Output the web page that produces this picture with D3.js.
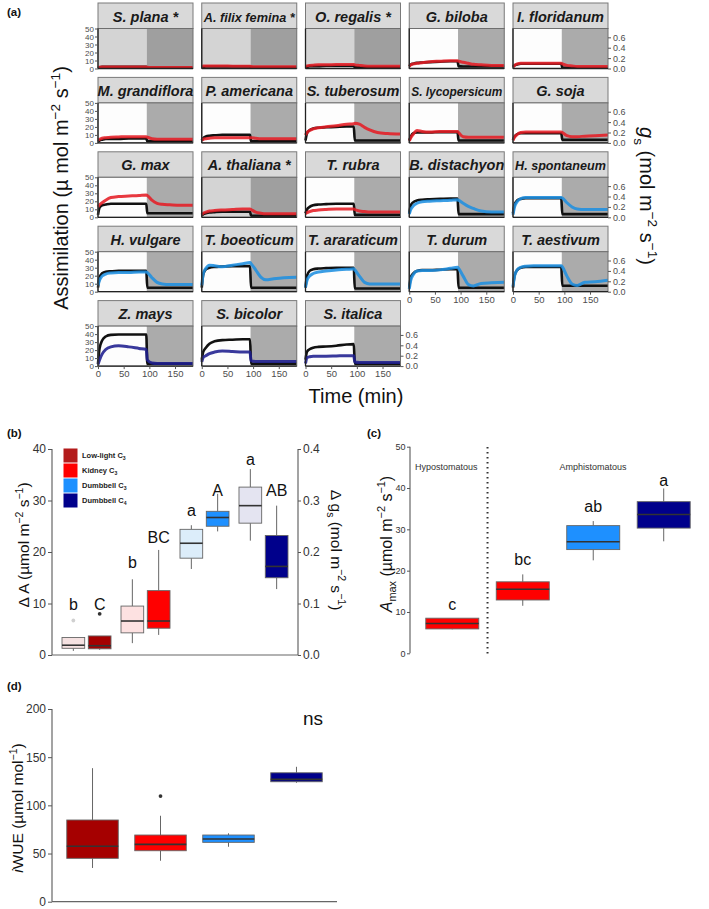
<!DOCTYPE html>
<html lang="en">
<head>
<meta charset="UTF-8">
<title>Assimilation and stomatal conductance</title>
<script src="https://cdn.jsdelivr.net/npm/d3@7"></script>
<style>
  body { margin: 0; background: #fff; }
  svg { display: block; }
  text { font-family: "Liberation Sans", Arial, Helvetica, sans-serif; }
</style>
</head>
<body>
<svg id="fig" width="709" height="909"></svg>
<script>
// ---------- data: panel (a) time courses ----------
const timeMin = [0, 3, 8, 15, 25, 40, 60, 80, 94, 96, 105, 115, 125, 140, 160, 185];
const lightsOff = 95;
const timeTicks = [0, 50, 100, 150];
const assimTicks = [0, 10, 20, 30, 40, 50];
const gsTicks = [0, 0.2, 0.4, 0.6];

const species = [
  "S. plana *", "A. filix femina *", "O. regalis *", "G. biloba", "I. floridanum",
  "M. grandiflora", "P. americana", "S. tuberosum", "S. lycopersicum", "G. soja",
  "G. max", "A. thaliana *", "T. rubra", "B. distachyon", "H. spontaneum",
  "H. vulgare", "T. boeoticum", "T. araraticum", "T. durum", "T. aestivum",
  "Z. mays", "S. bicolor", "S. italica"
];
const speciesType = [
  "kidney", "kidney", "kidney", "kidney", "kidney",
  "kidney", "kidney", "kidney", "kidney", "kidney",
  "kidney", "kidney", "kidney", "dumbC3", "dumbC3",
  "dumbC3", "dumbC3", "dumbC3", "dumbC3", "dumbC3",
  "dumbC4", "dumbC4", "dumbC4"
];
// net assimilation (µmol m-2 s-1)
const assimilation = [
  [0.5, 1.5, 2, 2, 2, 2, 2, 2, 2, 1, 1, 1, 1, 1, 1, 1],
  [1, 2, 2.5, 2.5, 2.5, 2.5, 2.5, 2.5, 2.5, 1.5, 1.5, 1.5, 1.5, 1.5, 1.5, 1.5],
  [1, 2, 3, 3, 3, 3.5, 3.5, 3.5, 3.5, 1.5, 1.5, 1.5, 1.5, 1.5, 1.5, 1.5],
  [3, 5, 6, 7, 7.5, 8, 8.5, 9, 9, 3, 2.5, 2.5, 2.5, 2.5, 2.5, 2.5],
  [2, 4, 5, 6, 6, 6, 6, 6, 6, 1, 1, 1, 1, 1, 1, 1],
  [2, 3, 4, 5, 5, 5, 5.5, 5.5, 5.5, 2, 2, 2, 2, 2, 2, 2],
  [3, 6, 8, 9, 9.5, 10, 10, 10, 10, 2, 2, 2, 2, 2, 2, 2],
  [3, 12, 16, 18, 19, 19.5, 20, 20.5, 20.5, 3, 3, 3, 3, 3, 3, 3],
  [3, 8, 12, 13, 13, 13, 13.5, 13.5, 13.5, 3, 3, 3, 3, 3, 3, 3],
  [4, 8, 11, 12, 12, 12, 12, 12, 12, 4, 4, 4, 4, 4, 4, 4],
  [3, 12, 15, 16, 17, 17, 17, 17, 17, 5, 5, 5, 5, 5, 5, 5],
  [2, 4, 5, 6, 6.5, 7, 7, 7, 7, 2, 2, 2, 2, 2, 2, 2],
  [5, 10, 13, 15, 16, 16.5, 17, 17, 17, 3, 3, 3, 3, 3, 3, 3],
  [5, 15, 19, 21, 22, 22.5, 23, 23.5, 23.5, 4, 4, 4, 4, 4, 4, 4],
  [5, 16, 21, 23, 24, 24, 24, 24, 24, 4, 4, 4, 4, 4, 4, 4],
  [5, 18, 23, 25, 25.5, 26, 26, 26, 26, 5, 5, 5, 5, 5, 5, 5],
  [5, 22, 28, 30, 31, 31.5, 32, 32, 32, 5, 5, 5, 5, 5, 5, 5],
  [5, 20, 26, 28, 29, 29.5, 30, 30, 30, 4, 4, 4, 4, 4, 4, 4],
  [5, 18, 23, 26, 27, 27, 27.5, 28, 28, 5, 5, 5, 5, 5, 5, 5],
  [5, 20, 27, 30, 31, 31, 31, 31, 31, 7.5, 7.5, 7.5, 7.5, 7.5, 7.5, 7.5],
  [3, 22, 32, 37, 39, 39.5, 39.5, 39.5, 39.5, 3, 3, 3, 3, 3, 3, 3],
  [8, 18, 23, 28, 31, 32.5, 33, 33.5, 33.5, 3, 3, 3, 3, 3, 3, 3],
  [8, 18, 21, 23, 24, 24.5, 25.5, 27, 27.5, 3, 3, 3, 3, 3, 3, 3]
];
// stomatal conductance (mol m-2 s-1)
const conductance = [
  [0.02, 0.025, 0.03, 0.03, 0.03, 0.03, 0.03, 0.03, 0.03, 0.025, 0.02, 0.02, 0.02, 0.02, 0.02, 0.02],
  [0.04, 0.05, 0.05, 0.05, 0.05, 0.05, 0.045, 0.045, 0.045, 0.04, 0.035, 0.035, 0.035, 0.035, 0.035, 0.035],
  [0.04, 0.05, 0.06, 0.065, 0.07, 0.07, 0.075, 0.075, 0.075, 0.07, 0.06, 0.05, 0.045, 0.045, 0.045, 0.045],
  [0.04, 0.07, 0.09, 0.1, 0.11, 0.13, 0.14, 0.15, 0.15, 0.14, 0.12, 0.1, 0.08, 0.07, 0.06, 0.06],
  [0.03, 0.06, 0.09, 0.1, 0.1, 0.1, 0.1, 0.1, 0.1, 0.09, 0.06, 0.05, 0.04, 0.04, 0.04, 0.04],
  [0.06, 0.07, 0.09, 0.1, 0.11, 0.115, 0.12, 0.12, 0.12, 0.11, 0.08, 0.07, 0.07, 0.07, 0.07, 0.07],
  [0.05, 0.07, 0.08, 0.09, 0.1, 0.1, 0.1, 0.1, 0.1, 0.1, 0.09, 0.08, 0.08, 0.08, 0.08, 0.08],
  [0.15, 0.2, 0.24, 0.27, 0.29, 0.31, 0.33, 0.36, 0.37, 0.38, 0.36, 0.3, 0.25, 0.2, 0.18, 0.17],
  [0.04, 0.1, 0.17, 0.24, 0.22, 0.21, 0.22, 0.22, 0.22, 0.2, 0.12, 0.11, 0.11, 0.11, 0.11, 0.11],
  [0.05, 0.11, 0.16, 0.2, 0.21, 0.21, 0.21, 0.21, 0.21, 0.2, 0.14, 0.12, 0.12, 0.13, 0.14, 0.15],
  [0.2, 0.24, 0.28, 0.33, 0.38, 0.4, 0.41, 0.42, 0.43, 0.42, 0.33, 0.27, 0.25, 0.24, 0.23, 0.23],
  [0.05, 0.08, 0.1, 0.12, 0.13, 0.14, 0.15, 0.16, 0.16, 0.15, 0.1, 0.08, 0.07, 0.07, 0.07, 0.07],
  [0.07, 0.09, 0.11, 0.13, 0.14, 0.15, 0.16, 0.16, 0.16, 0.15, 0.12, 0.11, 0.1, 0.1, 0.1, 0.1],
  [0.06, 0.15, 0.22, 0.27, 0.3, 0.31, 0.32, 0.33, 0.34, 0.33, 0.27, 0.21, 0.17, 0.12, 0.1, 0.1],
  [0.05, 0.2, 0.3, 0.36, 0.38, 0.38, 0.38, 0.38, 0.38, 0.37, 0.28, 0.2, 0.16, 0.15, 0.15, 0.15],
  [0.12, 0.22, 0.3, 0.34, 0.36, 0.37, 0.37, 0.38, 0.38, 0.37, 0.27, 0.18, 0.15, 0.14, 0.14, 0.14],
  [0.12, 0.35, 0.45, 0.51, 0.5, 0.48, 0.51, 0.54, 0.56, 0.54, 0.42, 0.28, 0.23, 0.25, 0.27, 0.28],
  [0.08, 0.22, 0.3, 0.35, 0.38, 0.4, 0.42, 0.43, 0.44, 0.42, 0.3, 0.18, 0.15, 0.15, 0.15, 0.15],
  [0.05, 0.22, 0.33, 0.4, 0.41, 0.41, 0.42, 0.45, 0.47, 0.45, 0.3, 0.14, 0.11, 0.16, 0.17, 0.18],
  [0.1, 0.3, 0.42, 0.47, 0.49, 0.5, 0.5, 0.5, 0.5, 0.48, 0.3, 0.15, 0.12, 0.18, 0.19, 0.22],
  [0.03, 0.12, 0.23, 0.32, 0.37, 0.39, 0.37, 0.34, 0.32, 0.12, 0.06, 0.05, 0.05, 0.05, 0.05, 0.05],
  [0.08, 0.17, 0.2, 0.24, 0.27, 0.29, 0.28, 0.27, 0.27, 0.1, 0.09, 0.09, 0.09, 0.09, 0.09, 0.09],
  [0.05, 0.16, 0.18, 0.19, 0.19, 0.19, 0.195, 0.2, 0.2, 0.08, 0.07, 0.07, 0.07, 0.07, 0.07, 0.07]
];
const lineColor = { kidney: "#e51e25", dumbC3: "#1f8fe0", dumbC4: "#1e1e8e" };

// ---------- data: panel (b) ----------
const typeNames = ["Low-light C3", "Kidney C3", "Dumbbell C3", "Dumbbell C4"];
const typeColors = ["#a50000", "#ff0000", "#1e90ff", "#00008b"];
const legendColors = ["#b31b1b", "#ff0000", "#1e90ff", "#00008b"];
const paleColors = ["#f5e1e1", "#fde1e1", "#dcedfa", "#e4e4f1"];
// [lower whisker, q1, median, q3, upper whisker]
const deltaA = [[0.8, 1.3, 1.9, 3.4, 3.4], [2.3, 4.3, 6.6, 9.5, 14.7], [16.7, 18.8, 21.7, 24.4, 25.2], [22.2, 25.6, 29, 32.6, 36.1]];
const deltaAOutliers = [[6.7], [], [], []];
const deltaALetters = ["b", "b", "a", "a"];
const deltaALetterAt = [8.75, 16.9, 26.9, 36.8];
const deltaGs = [[0.01, 0.012, 0.018, 0.037, 0.037], [0.039, 0.052, 0.066, 0.125, 0.204], [0.24, 0.25, 0.267, 0.279, 0.313], [0.128, 0.15, 0.172, 0.232, 0.29]];
const deltaGsOutliers = [[0.08], [], [], []];
const deltaGsLetters = ["C", "BC", "A", "AB"];
const deltaGsLetterAt = [0.0875, 0.218, 0.308, 0.308];
const deltaATicks = [0, 10, 20, 30, 40];
const deltaGsTicks = [0, 0.1, 0.2, 0.3, 0.4];

// ---------- data: panel (c) ----------
const amaxGroups = ["Hypo kidney", "Amphi kidney", "Dumbbell C3", "Dumbbell C4"];
const amaxColors = ["#ff0000", "#ff0000", "#1e90ff", "#00008b"];
const amax = [[5.8, 5.9, 7.2, 8.5, 8.5], [11.5, 12.9, 15.5, 17.3, 19.1], [22.5, 25.1, 27, 30.9, 32], [27.1, 30.3, 33.6, 36.7, 39.9]];
const amaxLetters = ["c", "bc", "ab", "a"];
const amaxLetterAt = [10.5, 21.4, 34.3, 40.5];
const amaxTicks = [0, 10, 20, 30, 40, 50];

// ---------- data: panel (d) ----------
const iwue = [[35, 45, 57.5, 84.8, 138.6], [42.5, 52.9, 59.5, 69.2, 89.2], [57, 61.6, 65, 69.2, 71], [123.4, 124.5, 127, 133.8, 140]];
const iwueOutliers = [[], [109.6], [], []];
const iwueTicks = [0, 50, 100, 150, 200];

// ---------- helpers ----------
const svg = d3.select("#fig");

function richText(t, parts, size) {
  let shift = 0;
  parts.forEach(([str, kind]) => {
    const s = t.append("tspan").text(str);
    let target = 0;
    if (kind === "sup") { target = -size * 0.42; s.attr("font-size", size * 0.68); }
    if (kind === "sub") { target = size * 0.28; s.attr("font-size", size * 0.68); }
    if (kind === "it") s.attr("font-style", "italic");
    s.attr("dy", target - shift);
    shift = target;
  });
}

function styleAxis(g, size, color) {
  g.select(".domain").remove();
  g.selectAll(".tick line").attr("stroke", "#555");
  g.selectAll(".tick text").attr("font-size", size).attr("fill", color)
    .attr("font-family", '"Liberation Sans", Arial, sans-serif');
}

function drawBox(g, cx, w, s, y, fill, outliers, outFill) {
  const [lo, q1, med, q3, hi] = s;
  g.append("line").attr("x1", cx).attr("x2", cx).attr("y1", y(hi)).attr("y2", y(q3))
    .attr("stroke", "#666").attr("stroke-width", 1);
  g.append("line").attr("x1", cx).attr("x2", cx).attr("y1", y(q1)).attr("y2", y(lo))
    .attr("stroke", "#666").attr("stroke-width", 1);
  g.append("rect").attr("x", cx - w / 2).attr("y", y(q3)).attr("width", w)
    .attr("height", y(q1) - y(q3)).attr("fill", fill).attr("stroke", "#666").attr("stroke-width", 0.9);
  g.append("line").attr("x1", cx - w / 2).attr("x2", cx + w / 2).attr("y1", y(med)).attr("y2", y(med))
    .attr("stroke", "#333").attr("stroke-width", 1.6);
  outliers.forEach(o => {
    g.append("circle").attr("cx", cx).attr("cy", y(o)).attr("r", 1.9).attr("fill", outFill);
  });
}

function panelTag(txt, x, y) {
  svg.append("text").attr("x", x).attr("y", y).attr("font-size", 11.5)
    .attr("font-weight", "bold").attr("fill", "#111").text(txt);
}

// ---------- panel (a) ----------
panelTag("(a)", 7, 16);
const facetW = 95, stripH = 25.5, plotH = 40;
const colStep = 103.75, rowStep = 74.4, left0 = 98, top0 = 3;
const xT = d3.scaleLinear().domain([0, 185]).range([0, facetW]);
const yA = d3.scaleLinear().domain([0, 50]).range([plotH, 0]);
const yG = d3.scaleLinear().domain([0, 0.77]).range([plotH, 0]);
const lineA = d3.line().x((d, i) => xT(timeMin[i])).y(d => yA(d)).curve(d3.curveMonotoneX);
const lineG = d3.line().x((d, i) => xT(timeMin[i])).y(d => yG(d)).curve(d3.curveMonotoneX);

species.forEach((name, i) => {
  const col = i % 5, row = Math.floor(i / 5);
  const starred = name.includes("*");
  const g = svg.append("g").attr("transform", `translate(${left0 + col * colStep},${top0 + row * rowStep})`);

  g.append("rect").attr("width", facetW).attr("height", stripH)
    .attr("fill", "#d9d9d9").attr("stroke", "#7a7a7a").attr("stroke-width", 1);
  const title = g.append("text").attr("x", facetW / 2).attr("y", 18.5)
    .attr("text-anchor", "middle").attr("font-size", 14.5).attr("font-weight", "bold")
    .attr("font-style", "italic").attr("fill", "#1a1a1a").text(name);
  const len = title.node().getComputedTextLength();
  if (len > 100) title.attr("font-size", 14.5 * 91 / len);

  const p = g.append("g").attr("transform", `translate(0,${stripH})`);
  p.append("rect").attr("x", 0).attr("width", xT(lightsOff)).attr("height", plotH)
    .attr("fill", starred ? "#d4d4d4" : "#fdfdfd");
  p.append("rect").attr("x", xT(lightsOff)).attr("width", facetW - xT(lightsOff)).attr("height", plotH)
    .attr("fill", starred ? "#9f9f9f" : "#ababab");

  p.append("path").datum(assimilation[i]).attr("d", lineA)
    .attr("fill", "none").attr("stroke", "#111").attr("stroke-width", 2.6);
  p.append("path").datum(conductance[i]).attr("d", lineG)
    .attr("fill", "none").attr("stroke", lineColor[speciesType[i]])
    .attr("stroke-width", 3).attr("stroke-opacity", 0.88);

  p.append("rect").attr("width", facetW).attr("height", plotH)
    .attr("fill", "none").attr("stroke", "#6e6e6e").attr("stroke-width", 1);
  p.append("line").attr("x1", 0).attr("x2", 0).attr("y1", 0).attr("y2", plotH)
    .attr("stroke", "#222").attr("stroke-width", 1.3);
  p.append("line").attr("x1", 0).attr("x2", facetW).attr("y1", plotH).attr("y2", plotH)
    .attr("stroke", "#222").attr("stroke-width", 1.3);

  if (col === 0) {
    const ax = p.append("g").call(d3.axisLeft(yA).tickValues(assimTicks).tickSize(3).tickPadding(1));
    styleAxis(ax, 8, "#4d4d4d");
  }
  if (col === 4 || i === species.length - 1) {
    const ax = p.append("g").attr("transform", `translate(${facetW},0)`)
      .call(d3.axisRight(yG).tickValues(gsTicks).tickFormat(d3.format(".1f")).tickSize(3).tickPadding(2));
    styleAxis(ax, 9, "#4d4d4d");
  }
  if (row === 4 || (row === 3 && col >= 3)) {
    const ax = p.append("g").attr("transform", `translate(0,${plotH})`)
      .call(d3.axisBottom(xT).tickValues(timeTicks).tickSize(3).tickPadding(1.5));
    styleAxis(ax, 9.5, "#4d4d4d");
  }
});

// panel (a) axis titles
richText(svg.append("text").attr("transform", "translate(68,188) rotate(-90)")
  .attr("text-anchor", "middle").attr("font-size", 20).attr("fill", "#111"),
  [["Assimilation (µ mol m"], ["−2", "sup"], [" s"], ["−1", "sup"], [")"]], 20);
richText(svg.append("text").attr("transform", "translate(640,196) rotate(90)")
  .attr("text-anchor", "middle").attr("font-size", 20).attr("fill", "#111"),
  [["g", "it"], ["s", "sub"], [" (mol m"], ["−2", "sup"], [" s"], ["−1", "sup"], [")"]], 20);
svg.append("text").attr("x", 356).attr("y", 403).attr("text-anchor", "middle")
  .attr("font-size", 20).attr("fill", "#111").text("Time (min)");

// ---------- panel (b) ----------
panelTag("(b)", 7, 437);
const bx = d3.scalePoint().domain(typeNames).range([52, 298]).padding(0.585);
const bDodge = d3.scaleBand().domain(["A", "gs"]).range([-25, 25]).paddingInner(0.1);
const byL = d3.scaleLinear().domain([0, 40]).range([655, 449]);
const byR = d3.scaleLinear().domain([0, 0.4]).range([655, 449]);
const gb = svg.append("g");

gb.append("line").attr("x1", 52).attr("x2", 298).attr("y1", 655).attr("y2", 655).attr("stroke", "#666").attr("stroke-width", 1.2);
gb.append("line").attr("x1", 52).attr("x2", 52).attr("y1", 449).attr("y2", 655).attr("stroke", "#666").attr("stroke-width", 1.2);
gb.append("line").attr("x1", 298).attr("x2", 298).attr("y1", 449).attr("y2", 655).attr("stroke", "#666").attr("stroke-width", 1.2);
styleAxis(gb.append("g").attr("transform", "translate(52,0)")
  .call(d3.axisLeft(byL).tickValues(deltaATicks).tickSize(4).tickPadding(2)), 12, "#333");
styleAxis(gb.append("g").attr("transform", "translate(298,0)")
  .call(d3.axisRight(byR).tickValues(deltaGsTicks).tickFormat(d3.format(".1f")).tickSize(3).tickPadding(2)), 12, "#333");

const bw = bDodge.bandwidth() - 1;
typeNames.forEach((t, k) => {
  const cA = bx(t) + bDodge("A") + bDodge.bandwidth() / 2;
  const cG = bx(t) + bDodge("gs") + bDodge.bandwidth() / 2;
  drawBox(gb, cA, bw, deltaA[k], byL, paleColors[k], deltaAOutliers[k], "#d0d0d0");
  drawBox(gb, cG, bw, deltaGs[k], byR, typeColors[k], deltaGsOutliers[k], "#333");
  gb.append("text").attr("x", cA).attr("y", byL(deltaALetterAt[k])).attr("text-anchor", "middle")
    .attr("font-size", 16).attr("fill", "#111").text(deltaALetters[k]);
  gb.append("text").attr("x", cG).attr("y", byR(deltaGsLetterAt[k])).attr("text-anchor", "middle")
    .attr("font-size", 16).attr("fill", "#111").text(deltaGsLetters[k]);
});

// legend
typeNames.forEach((t, k) => {
  const ly = 448.5 + k * 15;
  gb.append("rect").attr("x", 63.5).attr("y", ly).attr("width", 14).attr("height", 14).attr("fill", legendColors[k]);
  const txt = gb.append("text").attr("x", 82).attr("y", ly + 9.5).attr("font-size", 7.5)
    .attr("font-weight", "bold").attr("fill", "#222");
  richText(txt, [[t.slice(0, -1)], [t.slice(-1), "sub"]], 7.5);
});

richText(gb.append("text").attr("transform", "translate(29,545) rotate(-90)")
  .attr("text-anchor", "middle").attr("font-size", 15.5).attr("fill", "#111"),
  [["Δ A (µmol m"], ["−2", "sup"], [" s"], ["−1", "sup"], [")"]], 15.5);
richText(gb.append("text").attr("transform", "translate(331,550) rotate(90)")
  .attr("text-anchor", "middle").attr("font-size", 15.5).attr("fill", "#111"),
  [["Δ g"], ["s", "sub"], [" (mol m"], ["−2", "sup"], [" s"], ["−1", "sup"], [")"]], 15.5);

// ---------- panel (c) ----------
panelTag("(c)", 367, 437);
const cx = d3.scalePoint().domain(amaxGroups).range([410, 706]).padding(0.6);
const cy = d3.scaleLinear().domain([0, 50]).range([653.3, 446.7]);
const gc = svg.append("g");
gc.append("line").attr("x1", 410).attr("x2", 410).attr("y1", 446.7).attr("y2", 653.3).attr("stroke", "#666").attr("stroke-width", 1.2);
styleAxis(gc.append("g").attr("transform", "translate(410,0)")
  .call(d3.axisLeft(cy).tickValues(amaxTicks).tickSize(3).tickPadding(1.5)), 9, "#333");
const divX = (cx(amaxGroups[0]) + cx(amaxGroups[1])) / 2;
gc.append("line").attr("x1", divX).attr("x2", divX).attr("y1", 447).attr("y2", 655)
  .attr("stroke", "#333").attr("stroke-width", 2).attr("stroke-dasharray", "1.4,3.6");
gc.append("text").attr("x", cx(amaxGroups[0]) - 6).attr("y", 470).attr("text-anchor", "middle")
  .attr("font-size", 9).attr("fill", "#333").text("Hypostomatous");
gc.append("text").attr("x", 593).attr("y", 470).attr("text-anchor", "middle")
  .attr("font-size", 9).attr("fill", "#333").text("Amphistomatous");
amaxGroups.forEach((gname, k) => {
  drawBox(gc, cx(gname), 53, amax[k], cy, amaxColors[k], [], "#333");
  gc.append("text").attr("x", cx(gname)).attr("y", cy(amaxLetterAt[k])).attr("text-anchor", "middle")
    .attr("font-size", 16).attr("fill", "#111").text(amaxLetters[k]);
});
richText(gc.append("text").attr("transform", "translate(392,544) rotate(-90)")
  .attr("text-anchor", "middle").attr("font-size", 16).attr("fill", "#111"),
  [["A", "it"], ["max", "sub"], [" (µmol m"], ["−2", "sup"], [" s"], ["−1", "sup"], [")"]], 16);

// ---------- panel (d) ----------
panelTag("(d)", 7, 690);
const dx = d3.scalePoint().domain(typeNames).range([52, 337]).padding(0.596);
const dy = d3.scaleLinear().domain([0, 200]).range([901.7, 709]);
const gd = svg.append("g");
gd.append("line").attr("x1", 52).attr("x2", 337).attr("y1", 901.7).attr("y2", 901.7).attr("stroke", "#666").attr("stroke-width", 1.2);
gd.append("line").attr("x1", 52).attr("x2", 52).attr("y1", 709).attr("y2", 901.7).attr("stroke", "#666").attr("stroke-width", 1.2);
styleAxis(gd.append("g").attr("transform", "translate(52,0)")
  .call(d3.axisLeft(dy).tickValues(iwueTicks).tickSize(4).tickPadding(2)), 12, "#333");
typeNames.forEach((t, k) => {
  drawBox(gd, dx(t), 51.5, iwue[k], dy, typeColors[k], iwueOutliers[k], "#333");
});
gd.append("text").attr("x", 313).attr("y", dy(183.3)).attr("text-anchor", "middle")
  .attr("font-size", 19).attr("fill", "#111").text("ns");
richText(gd.append("text").attr("transform", "translate(23,808) rotate(-90)")
  .attr("text-anchor", "middle").attr("font-size", 15.5).attr("fill", "#111"),
  [["i", "it"], ["WUE (µmol mol"], ["−1", "sup"], [")"]], 15.5);
</script>
</body>
</html>
